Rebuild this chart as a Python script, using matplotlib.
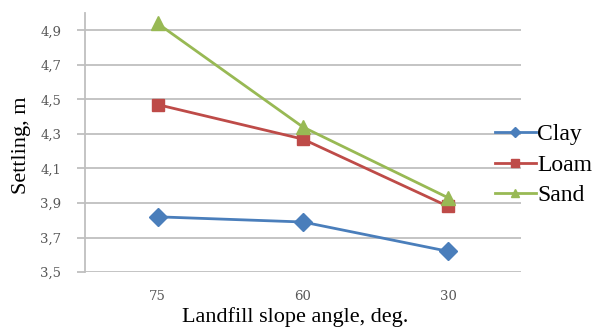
import matplotlib
matplotlib.use("Agg")
import matplotlib.pyplot as plt
from matplotlib.ticker import FuncFormatter

categories = ["75", "60", "30"]
clay = [3.82, 3.79, 3.62]
loam = [4.47, 4.27, 3.88]
sand = [4.94, 4.34, 3.93]
series_names = ["Clay", "Loam", "Sand"]
yticks = [3.5, 3.7, 3.9, 4.1, 4.3, 4.5, 4.7, 4.9]

plt.rcParams['font.family'] = ['Liberation Serif', 'DejaVu Serif']

fig = plt.figure(figsize=(5.94, 3.27), dpi=100)
ax = fig.add_axes([0.143, 0.168, 0.734, 0.792])

x = list(range(len(categories)))
styles = [("#4A7EBB", "D", 9), ("#BE4B48", "s", 9), ("#98B954", "^", 10)]
for vals, name, (c, m, ms) in zip([clay, loam, sand], series_names, styles):
    ax.plot(x, vals, color=c, marker=m, markersize=ms, linewidth=2, label=name)

ax.set_xlim(-0.5, 2.5)
ax.set_ylim(3.5, 5.0)
ax.set_yticks(yticks)
ax.yaxis.set_major_formatter(FuncFormatter(lambda v, p: f"{v:.1f}".replace(".", ",")))
ax.set_xticks(x)
ax.set_xticklabels(categories)
ax.grid(axis='y', color='#bfbfbf', linewidth=1.3)
ax.set_axisbelow(True)
for s in ['top', 'right', 'bottom']:
    ax.spines[s].set_visible(False)
ax.spines['left'].set_color('#bfbfbf')
ax.spines['left'].set_linewidth(1.3)
ax.tick_params(axis='y', length=6, color='#bfbfbf', width=1.3, labelcolor='#595959', pad=11)
ax.tick_params(axis='x', length=0, labelcolor='#595959', pad=13)
for lab in ax.get_yticklabels() + ax.get_xticklabels():
    lab.set_fontfamily('DejaVu Serif')
    lab.set_fontsize(9.5)

ax.set_xlabel("Landfill slope angle, deg.", fontsize=16, va='center')
ax.xaxis.set_label_coords(0.482, -0.174)
ax.set_ylabel("Settling, m", fontsize=16, va='center')
ax.yaxis.set_label_coords(-0.145, 0.49)

fig.legend(loc='center left', bbox_to_anchor=(0.833, 0.495), frameon=False,
           fontsize=17, handlelength=1.75, handletextpad=0.05, labelspacing=0.38,
           borderaxespad=0, borderpad=0, markerscale=0.6)

fig.savefig("out.png", dpi=100)
